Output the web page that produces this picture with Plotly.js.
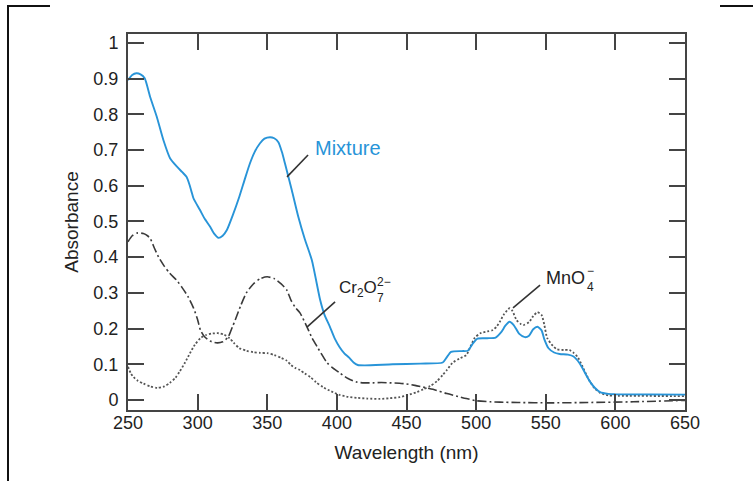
<!DOCTYPE html>
<html>
<head>
<meta charset="utf-8">
<script src="https://cdn.plot.ly/plotly-3.0.1.min.js"></script>
<style>
html,body{margin:0;padding:0;background:#fff;}
#wrap{position:relative;width:753px;height:481px;overflow:hidden;}
#chart{position:absolute;left:0;top:0;width:753px;height:481px;}
.fr{position:absolute;background:#111;}
</style>
</head>
<body>
<div id="wrap">
<div id="chart"></div>
<div class="fr" style="left:7px;top:5px;width:2px;height:476px;"></div>
<div class="fr" style="left:7px;top:5px;width:43px;height:2px;"></div>
<div class="fr" style="left:720px;top:5px;width:33px;height:2px;"></div>
</div>
<script>
// ---- data ----
const mixWl = [250,253,256,259,262,265.8,270.6,275.4,280.2,285,289,292,294,295.5,297,301.7,305,309,312,315,318,321,325,330,334,337.6,341,344.8,348,352,355,358,360.5,362.7,367.6,372.3,377,382,388,391,395,398.5,402,405.5,409,412,415,420,440,460,476,479,482,490,494,498,501,508,514,518,521,524,527,531,535,538,541,544,547,549,552,556,560,566,570,573,576,579,582,585,589,595,600,650];
const mixAbs = [0.896,0.91,0.915,0.912,0.901,0.85,0.794,0.728,0.677,0.654,0.638,0.625,0.605,0.585,0.565,0.532,0.508,0.485,0.465,0.454,0.46,0.476,0.515,0.57,0.62,0.663,0.695,0.719,0.732,0.736,0.733,0.722,0.695,0.663,0.588,0.513,0.45,0.392,0.28,0.24,0.205,0.172,0.148,0.13,0.118,0.105,0.098,0.097,0.100,0.102,0.105,0.12,0.135,0.137,0.138,0.16,0.172,0.173,0.175,0.19,0.208,0.219,0.21,0.185,0.176,0.18,0.198,0.205,0.195,0.17,0.145,0.133,0.129,0.127,0.122,0.11,0.092,0.07,0.05,0.035,0.022,0.017,0.016,0.015];

const crWl = [250,253,257,261,264,266,269,272,276,280,285,289,293,297,300,302,305,309,314,318,322,325,327,331,335,340,345,350,355,360,364,367,370,373.5,378.5,382,386,390,393,397,402,408,414.5,420,426,432,438,445,450,456,462,469,479,487,493,500,510,517,530,553,580,613,650];
const crAbs = [0.443,0.46,0.468,0.466,0.46,0.452,0.425,0.40,0.375,0.355,0.335,0.314,0.29,0.258,0.225,0.196,0.177,0.165,0.16,0.163,0.177,0.205,0.224,0.265,0.30,0.325,0.34,0.345,0.34,0.325,0.308,0.28,0.26,0.244,0.205,0.175,0.148,0.122,0.104,0.09,0.076,0.06,0.05,0.048,0.048,0.049,0.048,0.047,0.045,0.041,0.036,0.03,0.018,0.01,0.004,-0.002,-0.005,-0.006,-0.007,-0.008,-0.007,-0.005,-0.001];

const mnWl = [250,252,254,257,261,266,271,276,280,284,287,291,294.5,298,302,306,310,315,319,323,326,330,335,340,345,350,355,360,364,367,370,373.5,377,381,385,390,396,402,408,414.5,422,431,438,445,451,457.5,462,467,472,476,479,483,488,493,496,499,503,508,512,515,517,520,524,526,529,532,534,538,541,544,547,549,551,555,558,563,567,570,573,576,579,582,585,589,595,600,650];
const mnAbs = [0.093,0.075,0.064,0.054,0.046,0.038,0.034,0.038,0.048,0.062,0.079,0.105,0.131,0.155,0.173,0.182,0.186,0.187,0.183,0.173,0.16,0.145,0.138,0.134,0.132,0.131,0.126,0.118,0.11,0.098,0.09,0.084,0.074,0.064,0.05,0.036,0.024,0.014,0.009,0.006,0.004,0.003,0.005,0.008,0.014,0.022,0.03,0.039,0.053,0.07,0.084,0.104,0.116,0.126,0.15,0.174,0.187,0.192,0.196,0.207,0.219,0.24,0.257,0.25,0.224,0.213,0.21,0.218,0.235,0.246,0.238,0.21,0.174,0.152,0.142,0.14,0.14,0.132,0.12,0.097,0.072,0.05,0.033,0.02,0.013,0.012,0.011];

const xTicks = [250,300,350,400,450,500,550,600,650];
const yTicks = [0,0.1,0.2,0.3,0.4,0.5,0.6,0.7,0.8,0.9,1];
const yTickText = ['0','0.1','0.2','0.3','0.4','0.5','0.6','0.7','0.8','0.9','1'];

const FONT = 'Liberation Sans, Arial, Helvetica, sans-serif';
const AX = '#444';
const TXT = '#222';

const traces = [
  {x: crWl, y: crAbs, mode:'lines', line:{color:'#3a3a3a', width:1.6, dash:'9px,3px,2px,3px', shape:'spline', smoothing:0.6}, hoverinfo:'skip'},
  {x: mnWl, y: mnAbs, mode:'lines', line:{color:'#555555', width:1.8, dash:'2px,2px', shape:'spline', smoothing:0.6}, hoverinfo:'skip'},
  {x: mixWl, y: mixAbs, mode:'lines', line:{color:'#2894d8', width:1.9, shape:'spline', smoothing:0.6}, hoverinfo:'skip'}
];

const axisCommon = {
  ticks:'inside', ticklen:16, tickwidth:2, tickcolor:AX,
  showline:true, linewidth:2, linecolor:AX, mirror:'ticks',
  showgrid:false, zeroline:false,
  tickfont:{family:FONT, size:18, color:TXT}
};

const small = {family:FONT, size:12, color:TXT};

const layout = {
  width:753, height:481,
  margin:{l:128, r:68, t:34, b:71, pad:0},
  paper_bgcolor:'#fff', plot_bgcolor:'#fff',
  showlegend:false,
  xaxis: Object.assign({}, axisCommon, {
    range:[250,650], tickmode:'array', tickvals:xTicks,
    ticklabelstandoff:-5,
    title:{text:'Wavelength (nm)', font:{family:FONT, size:19, color:TXT}, standoff:14}
  }),
  yaxis: Object.assign({}, axisCommon, {
    range:[-0.028,1.025], tickmode:'array', tickvals:yTicks, ticktext:yTickText,
    ticklabelstandoff:4,
    title:{text:'Absorbance', font:{family:FONT, size:19, color:TXT}, standoff:10}
  }),
  shapes:[
    {type:'line', xref:'x', yref:'y', x0:379.3, y0:0.686, x1:364.2, y1:0.625, line:{color:'#333', width:1.6}},
    {type:'line', xref:'x', yref:'y', x0:398.7, y0:0.275, x1:378.5, y1:0.204, line:{color:'#333', width:1.6}},
    {type:'line', xref:'x', yref:'y', x0:545.9, y0:0.322, x1:526.5, y1:0.258, line:{color:'#333', width:1.6}}
  ],
  annotations:[
    {x:382.9, y:0.706, xref:'x', yref:'y', text:'Mixture', showarrow:false, xanchor:'left', yanchor:'middle', font:{family:FONT, size:20, color:'#2894d8'}},
    {x:400.8, y:0.31, xref:'x', yref:'y', text:'Cr<sub>2</sub>O', showarrow:false, xanchor:'left', yanchor:'middle', borderpad:0, font:{family:FONT, size:17, color:TXT}},
    {x:428, y:0.308, xref:'x', yref:'y', text:'2−', showarrow:false, xanchor:'left', yanchor:'bottom', borderpad:0, font:small},
    {x:428, y:0.308, xref:'x', yref:'y', text:'7', showarrow:false, xanchor:'left', yanchor:'top', borderpad:0, font:small},
    {x:549.5, y:0.342, xref:'x', yref:'y', text:'MnO', showarrow:false, xanchor:'left', yanchor:'middle', borderpad:0, font:{family:FONT, size:18, color:TXT}},
    {x:579, y:0.34, xref:'x', yref:'y', text:'−', showarrow:false, xanchor:'left', yanchor:'bottom', borderpad:0, font:small},
    {x:579, y:0.34, xref:'x', yref:'y', text:'4', showarrow:false, xanchor:'left', yanchor:'top', borderpad:0, font:small}
  ]
};

Plotly.newPlot('chart', traces, layout, {staticPlot:true, displayModeBar:false});
</script>
</body>
</html>
